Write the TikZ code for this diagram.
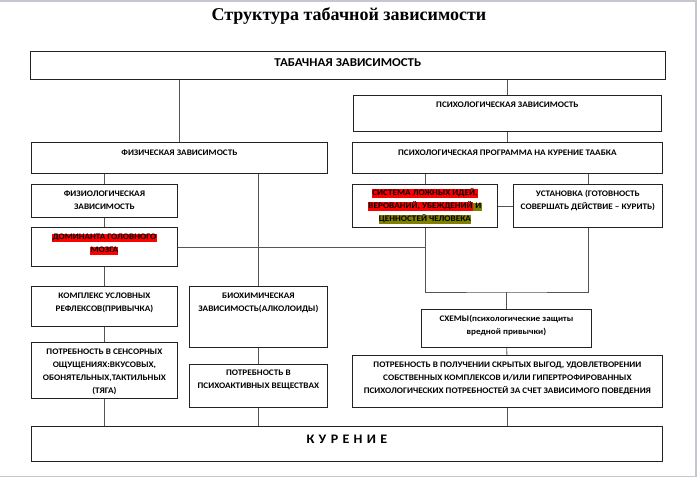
\documentclass[tikz,border=0pt]{standalone}
\usepackage{fontspec}
\newfontfamily\boxfnt{Carlito}[FakeStretch=1.08]
\newfontfamily\titlefnt{Liberation Serif}
\definecolor{lnblack}{RGB}{35,35,35}
\definecolor{lngray}{RGB}{85,85,85}
\definecolor{pgborder}{RGB}{196,199,205}
\definecolor{hlred}{RGB}{255,0,0}
\definecolor{hlolive}{RGB}{128,128,0}
\newcommand{\cellbox}[4][12.5pt]{\parbox[c][#3][t]{#2}{\centering\rule{0pt}{#1}#4\par}}
\newcommand{\hlr}[1]{{\setlength{\fboxsep}{0.3pt}\colorbox{hlred}{\rule[-2.2pt]{0pt}{7.8pt}#1}}}
\newcommand{\hlo}[1]{{\setlength{\fboxsep}{0.3pt}\colorbox{hlolive}{\rule[-2.2pt]{0pt}{7.8pt}#1}}}
\tikzset{
  blk/.style={draw=lnblack, line width=0.8pt, anchor=north west, inner sep=0pt,
    font=\boxfnt\bfseries\fontsize{8.5}{13}\selectfont},
  conn/.style={draw=lngray, line width=0.8pt}
}

\begin{document}
\begin{tikzpicture}[x=1pt, y=-1pt]
  \useasboundingbox (0,0) rectangle (700,478);
  \draw[pgborder, line width=1.5pt] (0,0.8) -- (696,0.8) -- (696,476.5) -- (0,476.5);
  \node[font=\titlefnt\bfseries\fontsize{18}{20}\selectfont] (title) at (349,16.5)
    {Структура табачной зависимости};
  % top level
  \node[blk] (tab) at (30,51)
    {\cellbox[15pt]{635pt}{28pt}{\fontsize{12}{13}\selectfont ТАБАЧНАЯ ЗАВИСИМОСТЬ}};
  \node[blk] (psyz) at (353,95) {\cellbox{308pt}{36pt}{ПСИХОЛОГИЧЕСКАЯ ЗАВИСИМОСТЬ}};
  \node[blk] (fiz) at (31,142) {\cellbox[13.5pt]{296pt}{31pt}{ФИЗИЧЕСКАЯ ЗАВИСИМОСТЬ}};
  \node[blk] (prog) at (352,142)
    {\cellbox[13.5pt]{310pt}{31pt}{ПСИХОЛОГИЧЕСКАЯ ПРОГРАММА НА КУРЕНИЕ ТААБКА}};
  % physical branch
  \node[blk] (fiziol) at (31,184) {\cellbox{146pt}{33pt}{ФИЗИОЛОГИЧЕСКАЯ\\ЗАВИСИМОСТЬ}};
  \node[blk] (domin) at (31,227)
    {\cellbox{146pt}{39pt}{\hlr{ДОМИНАНТА ГОЛОВНОГО}\\\hlr{МОЗГА}}};
  \node[blk] (kompl) at (31,286)
    {\cellbox{146pt}{40pt}{КОМПЛЕКС УСЛОВНЫХ\\РЕФЛЕКСОВ(ПРИВЫЧКА)}};
  \node[blk] (sens) at (31,342)
    {\cellbox{146pt}{56pt}{ПОТРЕБНОСТЬ В СЕНСОРНЫХ\\ОЩУЩЕНИЯХ:ВКУСОВЫХ,\\ОБОНЯТЕЛЬНЫХ,ТАКТИЛЬНЫХ\\(ТЯГА)}};
  \node[blk] (bioh) at (189,286)
    {\cellbox{138pt}{61pt}{БИОХИМИЧЕСКАЯ\\ЗАВИСИМОСТЬ(АЛКОЛОИДЫ)}};
  \node[blk] (pav) at (189,364)
    {\cellbox[11.5pt]{138pt}{43pt}{ПОТРЕБНОСТЬ В\\ПСИХОАКТИВНЫХ ВЕЩЕСТВАХ}};
  % psychological branch
  \node[blk] (sist) at (352,184)
    {\cellbox[11.5pt]{145pt}{43pt}{\hlr{СИСТЕМА ЛОЖНЫХ ИДЕЙ,}\\\hlr{ВЕРОВАНИЙ, УБЕЖДЕНИЙ}\hlo{ И}\\\hlo{ЦЕННОСТЕЙ ЧЕЛОВЕКА}}};
  \node[blk] (ustan) at (513,184)
    {\cellbox{149pt}{43pt}{УСТАНОВКА (ГОТОВНОСТЬ\\СОВЕРШАТЬ ДЕЙСТВИЕ – КУРИТЬ)}};
  \node[blk] (shem) at (421,309)
    {\cellbox[11.7pt]{170pt}{38pt}{СХЕМЫ(психологические защиты\\вредной привычки)}};
  \node[blk] (vygod) at (352,355)
    {\cellbox[11.7pt]{310pt}{52pt}{ПОТРЕБНОСТЬ В ПОЛУЧЕНИИ СКРЫТЫХ ВЫГОД, УДОВЛЕТВОРЕНИИ\\СОБСТВЕННЫХ КОМПЛЕКСОВ И/ИЛИ ГИПЕРТРОФИРОВАННЫХ\\ПСИХОЛОГИЧЕСКИХ ПОТРЕБНОСТЕЙ ЗА СЧЕТ ЗАВИСИМОГО ПОВЕДЕНИЯ}};
  % result
  \node[blk] (kur) at (31,426)
    {\cellbox[16.7pt]{631pt}{35pt}{\fontsize{13}{15}\selectfont К\,\,У\,\,Р\,\,Е\,\,Н\,\,И\,\,Е}};
  \coordinate (jn) at ([yshift=17pt]shem.north);
  \draw[conn] (fiz.north) -- (fiz.north |- tab.south);
  \draw[conn] (prog.north) -- (psyz.south);
  \draw[conn] (psyz.north) -- (psyz.north |- tab.south);
  \draw[conn] (fiziol.north) -- (fiziol.north |- fiz.south);
  \draw[conn] (bioh.north) -- (bioh.north |- fiz.south);
  \draw[conn] (fiziol) -- (domin);
  \draw[conn] (domin) -- (kompl);
  \draw[conn] (kompl) -- (sens);
  \draw[conn] (sens.south) -- (sens.south |- kur.north);
  \draw[conn] (bioh) -- (pav);
  \draw[conn] (pav.south) -- (pav.south |- kur.north);
  \draw[conn] (sist.north) -- (sist.north |- prog.south);
  \draw[conn] (ustan.north) -- (ustan.north |- prog.south);
  \draw[conn] (sist) -- (ustan);
  \draw[conn] (domin.east) -- (domin.east -| sist.south);
  \draw[conn] (sist.south) |- (jn) -| (ustan.south);
  \draw[conn] (jn) -- (shem.north);
  \draw[conn] (shem) -- (vygod);
  \draw[conn] (vygod.south) -- (vygod.south |- kur.north);
\end{tikzpicture}
\end{document}
